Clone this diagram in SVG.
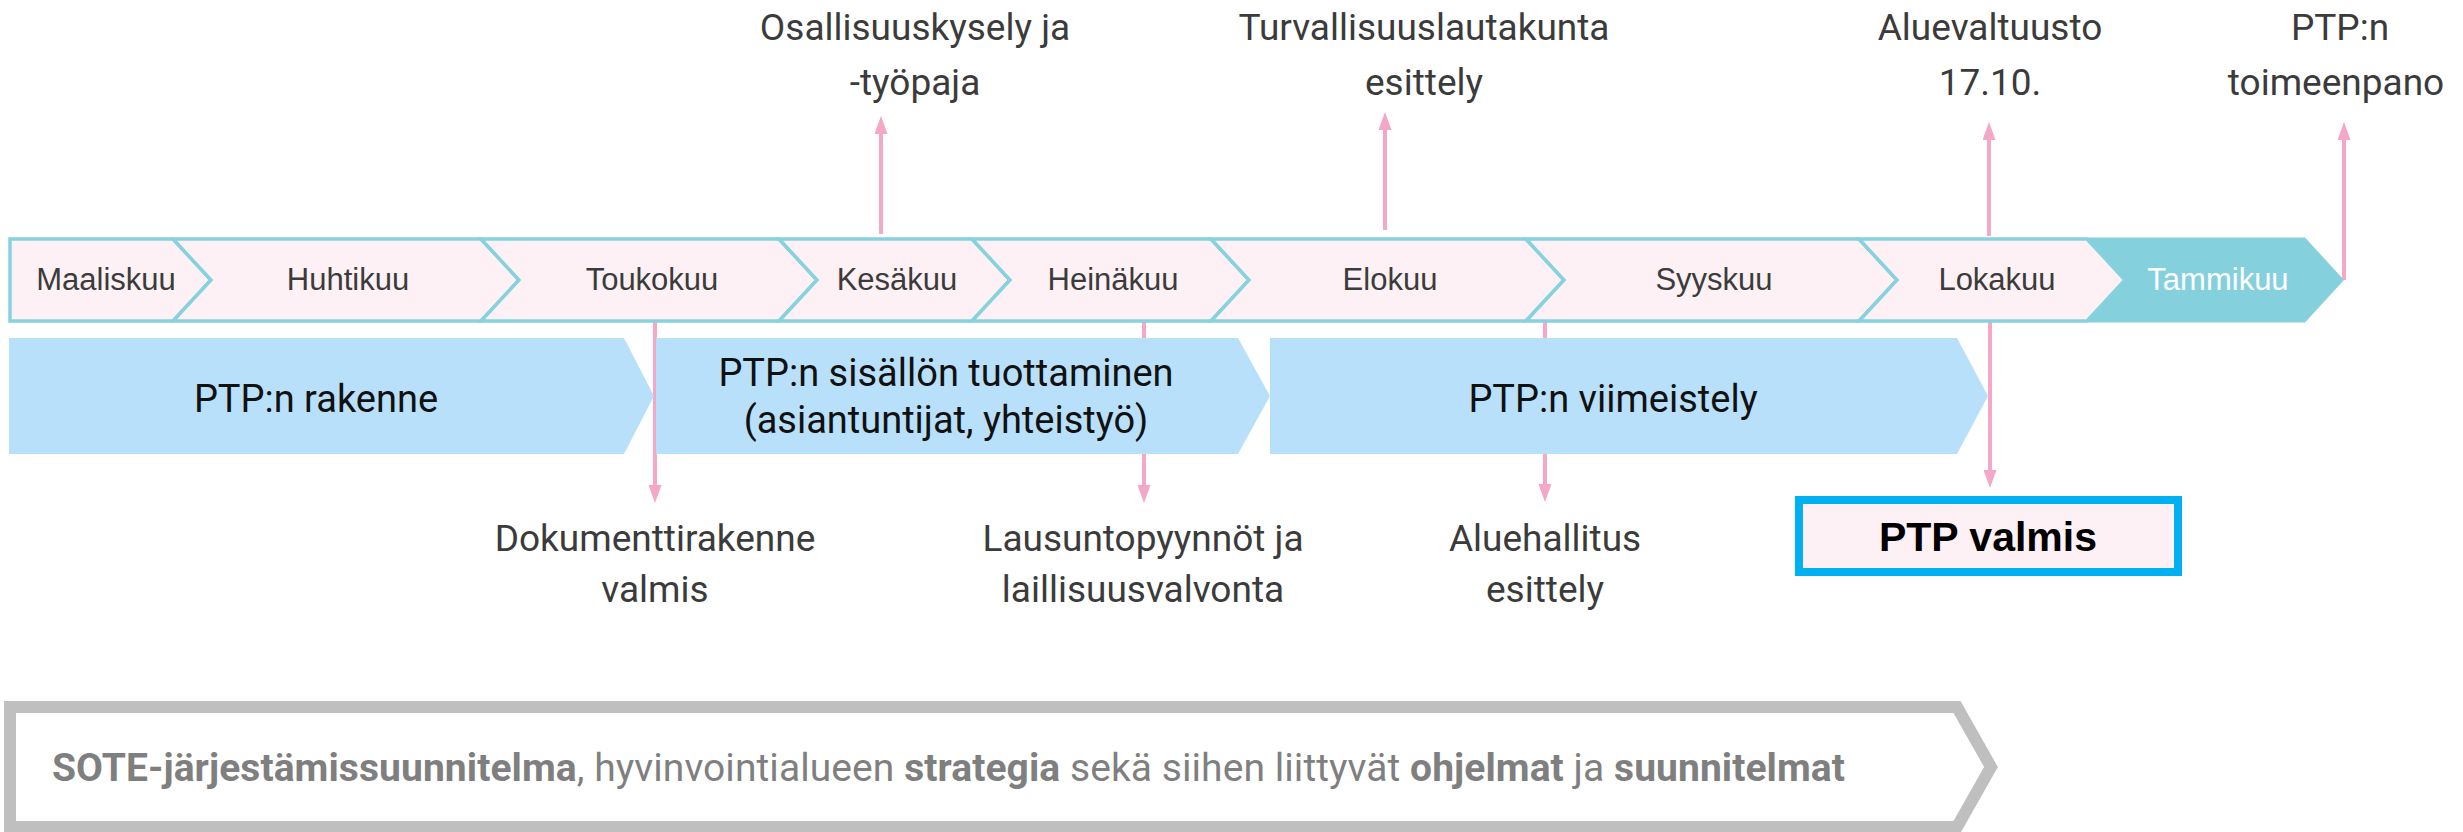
<svg xmlns="http://www.w3.org/2000/svg" width="2463" height="832" viewBox="0 0 2463 832">
<style>
.seg{fill:#fdf1f6;stroke:#86d2de;stroke-width:3.5;stroke-linejoin:miter}
.mon{font-family:"Liberation Sans",Arial,sans-serif;font-size:31px;fill:#3b3b3b;text-anchor:middle}
.phase{fill:#b9e0fb}
.ptxt{font-family:Roboto,"Open Sans",sans-serif;font-size:38px;fill:#111;text-anchor:middle}
.lbl{font-family:Roboto,"Open Sans",sans-serif;font-size:37px;fill:#3b3b3b;text-anchor:middle}
.con{stroke:#f4a7c7;stroke-width:4;fill:none;marker-end:url(#ah)}
.gray{font-family:Roboto,"Open Sans",sans-serif;font-size:39px;fill:#7f7f7f}
.b{font-weight:bold}
</style>
<defs>
<marker id="ah" markerUnits="userSpaceOnUse" markerWidth="18" markerHeight="13" refX="6" refY="6.5" orient="auto">
<path d="M0,0 L18,6.5 L0,13 z" fill="#f4a7c7"/>
</marker>
</defs>

<g id="connectors">
<line class="con" x1="881" y1="234" x2="881" y2="128"/>
<line class="con" x1="1385" y1="230" x2="1385" y2="124"/>
<line class="con" x1="1989" y1="236" x2="1989" y2="134"/>
<line class="con" x1="2344" y1="280" x2="2344" y2="134"/>
<line class="con" x1="655" y1="321" x2="655" y2="491"/>
<line class="con" x1="1144" y1="321" x2="1144" y2="491"/>
<line class="con" x1="1545" y1="321" x2="1545" y2="490"/>
<line class="con" x1="1990" y1="321" x2="1990" y2="476"/>
</g>

<g id="timeline">
<g id="m-maaliskuu"><polygon class="seg" points="10,239 173,239 211,280 173,321 10,321"/><text class="mon" x="106" y="290">Maaliskuu</text></g>
<g id="m-huhtikuu"><polygon class="seg" points="173,239 481,239 519,280 481,321 173,321 211,280"/><text class="mon" x="348" y="290">Huhtikuu</text></g>
<g id="m-toukokuu"><polygon class="seg" points="481,239 779,239 817,280 779,321 481,321 519,280"/><text class="mon" x="652" y="290">Toukokuu</text></g>
<g id="m-kesakuu"><polygon class="seg" points="779,239 972,239 1010,280 972,321 779,321 817,280"/><text class="mon" x="897" y="290">Kesäkuu</text></g>
<g id="m-heinakuu"><polygon class="seg" points="972,239 1211,239 1249,280 1211,321 972,321 1010,280"/><text class="mon" x="1113" y="290">Heinäkuu</text></g>
<g id="m-elokuu"><polygon class="seg" points="1211,239 1526,239 1564,280 1526,321 1211,321 1249,280"/><text class="mon" x="1390" y="290">Elokuu</text></g>
<g id="m-syyskuu"><polygon class="seg" points="1526,239 1859,239 1897,280 1859,321 1526,321 1564,280"/><text class="mon" x="1714" y="290">Syyskuu</text></g>
<g id="m-lokakuu"><polygon class="seg" points="1859,239 2087,239 2125,280 2087,321 1859,321 1897,280"/><text class="mon" x="1997" y="290">Lokakuu</text></g>
<g id="m-tammikuu"><polygon points="2087,237.5 2305,237.5 2344,280 2305,322.5 2087,322.5 2125,280" fill="#84d1dd"/><text class="mon" x="2218" y="290" style="fill:#ffffff">Tammikuu</text></g>
</g>

<g id="phase1"><polygon class="phase" points="9,338 624,338 654,396 624,454 9,454"/><text class="ptxt" x="316" y="412">PTP:n rakenne</text></g>
<g id="phase2"><polygon class="phase" points="656,338 1238,338 1270,396 1238,454 656,454"/><text class="ptxt" x="946" y="386">PTP:n sisällön tuottaminen</text><text class="ptxt" x="946" y="433">(asiantuntijat, yhteistyö)</text></g>
<g id="phase3"><polygon class="phase" points="1270,338 1957,338 1988,396 1957,454 1270,454"/><text class="ptxt" x="1613" y="412">PTP:n viimeistely</text></g>

<g id="lbl-osallisuus"><text class="lbl" x="915" y="40">Osallisuuskysely ja</text><text class="lbl" x="915" y="95">-työpaja</text></g>
<g id="lbl-turvallisuus"><text class="lbl" x="1424" y="40">Turvallisuuslautakunta</text><text class="lbl" x="1424" y="95">esittely</text></g>
<g id="lbl-aluevaltuusto"><text class="lbl" x="1990" y="40">Aluevaltuusto</text><text class="lbl" x="1990" y="95">17.10.</text></g>
<g id="lbl-toimeenpano"><text class="lbl" x="2340" y="40">PTP:n</text><text class="lbl" x="2336" y="95">toimeenpano</text></g>
<g id="lbl-dokumentti"><text class="lbl" x="655" y="551">Dokumenttirakenne</text><text class="lbl" x="655" y="602">valmis</text></g>
<g id="lbl-lausunto"><text class="lbl" x="1143" y="551">Lausuntopyynnöt ja</text><text class="lbl" x="1143" y="602">laillisuusvalvonta</text></g>
<g id="lbl-aluehallitus"><text class="lbl" x="1545" y="551">Aluehallitus</text><text class="lbl" x="1545" y="602">esittely</text></g>

<g id="ptp-valmis"><rect x="1799" y="500" width="379" height="72" fill="#fdf1f6" stroke="#00b0f0" stroke-width="8"/><text x="1988" y="551" font-family="'Liberation Sans',Arial,sans-serif" font-size="41" font-weight="bold" fill="#000" text-anchor="middle">PTP valmis</text></g>

<g id="context"><path d="M10,707 L1957,707 L1991,767 L1957,827 L10,827 Z" fill="#ffffff" stroke="#bfbfbf" stroke-width="12"/>
<text class="gray" x="52" y="781" textLength="1793" lengthAdjust="spacing"><tspan class="b">SOTE-järjestämissuunnitelma</tspan>, hyvinvointialueen <tspan class="b">strategia</tspan> sekä siihen liittyvät <tspan class="b">ohjelmat</tspan> ja <tspan class="b">suunnitelmat</tspan></text></g>
</svg>
